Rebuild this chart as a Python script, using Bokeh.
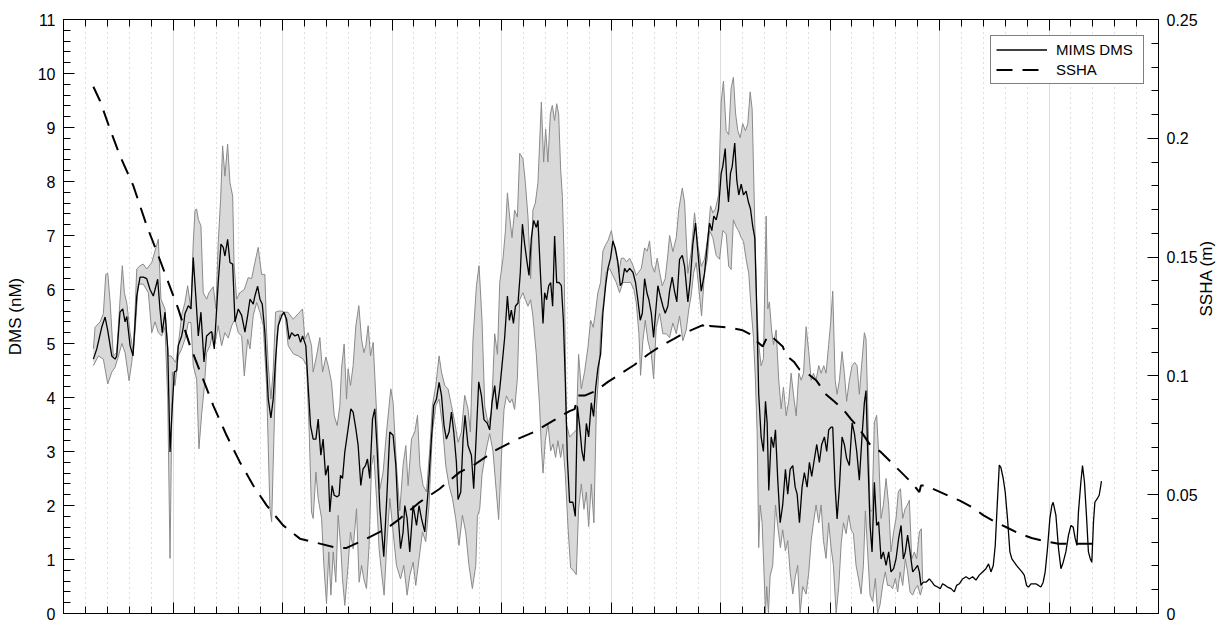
import math
from bokeh.plotting import figure
from bokeh.models import (Range1d, LinearAxis, FixedTicker, Legend, LegendItem)
from bokeh.embed import file_html
from bokeh.resources import INLINE

# ---------------- data (x in days, DMS in nM, SSHA in m) ----------------
mean_day = [0.273,0.304,0.349,0.380,0.404,0.441,0.471,0.486,0.516,0.541,0.562,0.578,0.608,0.635,0.669,0.699,0.729,0.760,0.790,0.820,
            0.836,0.860,0.881,0.902,0.927,0.952,0.973,0.994,1.012,1.034,1.048,1.079,1.094,1.109,1.140,1.164,1.185,1.210,1.231,1.255,
            1.283,1.307,1.338,1.353,1.377,1.413,1.438,1.459,1.474,1.499,1.520,1.545,1.566,1.596,1.627,1.657,1.682,1.703,1.733,1.748,
            1.773,1.794,1.815,1.839,1.870,1.894,1.915,1.937,1.961,1.992,2.013,2.037,2.061,2.083,2.113,2.143,2.165,2.183,2.213,2.234,
            2.256,2.280,2.305,2.326,2.350,2.371,2.393,2.417,2.432,2.453,2.472,2.499,2.517,2.530,2.548,2.569,2.599,2.624,2.645,2.670,
            2.691,2.715,2.736,2.758,2.776,2.797,2.822,2.843,2.864,2.889,2.925,2.955,2.980,3.010,3.035,3.056,3.078,3.101,3.117,3.138,
            3.162,3.193,3.224,3.247,3.269,3.299,3.329,3.360,3.381,3.406,3.430,3.452,3.475,3.497,3.521,3.543,3.564,3.588,3.603,3.628,
            3.649,3.667,3.694,3.725,3.746,3.771,3.792,3.817,3.840,3.871,3.892,3.913,3.938,3.959,3.984,4.005,4.029,4.054,4.072,4.090,
            4.109,4.127,4.151,4.172,4.191,4.212,4.233,4.251,4.273,4.294,4.318,4.333,4.355,4.379,4.394,4.412,4.431,4.449,4.467,4.485,
            4.504,4.525,4.547,4.565,4.583,4.601,4.622,4.652,4.674,4.693,4.714,4.734,4.753,4.775,4.796,4.820,4.841,4.859,4.880,4.905,
            4.926,4.951,4.972,4.996,5.017,5.039,5.063,5.085,5.103,5.124,5.145,5.170,5.200,5.224,5.245,5.267,5.286,5.307,5.328,5.346,
            5.368,5.389,5.407,5.428,5.450,5.474,5.495,5.519,5.535,5.559,5.580,5.601,5.626,5.651,5.672,5.702,5.724,5.747,5.772,5.793,
            5.824,5.854,5.879,5.900,5.921,5.939,5.961,5.982,6.006,6.021,6.043,6.057,6.073,6.091,6.107,6.130,6.149,6.167,6.189,6.210,
            6.234,6.255,6.274,6.295,6.313,6.331,6.349,6.371,6.392,6.411,6.426,6.441,6.463,6.484,6.502,6.523,6.545,6.568,6.593,6.614,
            6.636,6.660,6.682,6.700,6.721,6.745,6.766,6.791,6.812,6.833,6.858,6.879,6.903,6.924,6.949,6.970,6.988,7.010,7.025,7.047,
            7.065,7.086,7.110,7.131,7.152,7.177,7.202,7.223,7.244,7.268,7.293,7.314,7.329,7.344,7.366,7.384,7.405,7.426,7.444,7.466,
            7.487,7.512,7.536,7.557,7.581,7.603,7.627,7.649,7.670,7.688,7.709,7.731,7.755,7.779,7.800,7.816,7.831,7.852,7.877,7.907,
            7.932,7.953,7.983,8.007,8.028,8.053,8.074,8.105,8.135,8.156,8.181,8.211,8.242,8.272,8.302,8.333,8.363,8.393,8.424,8.448,
            8.470,8.491,8.509,8.527,8.546,8.561,8.582,8.600,8.621,8.643,8.661,8.682,8.703,8.728,8.753,8.774,8.795,8.813,8.835,8.859,
            8.880,8.904,8.926,8.947,8.965,8.986,9.008,9.026,9.038,9.063,9.087,9.109,9.130,9.154,9.178,9.200,9.221,9.239,9.255,9.269,
            9.291,9.306,9.324,9.342,9.360,9.376,9.391,9.406,9.419,9.442,9.458,9.473,9.479]
mean_nM = [4.71,4.90,5.30,5.49,5.24,4.77,4.71,4.77,5.58,5.64,5.40,5.50,4.96,4.77,5.88,6.23,6.23,6.20,6.00,5.88,
           6.00,6.19,5.64,5.20,5.58,4.90,2.99,3.85,4.47,4.50,4.96,5.14,5.30,5.55,5.70,5.64,6.59,5.82,5.14,5.58,
           4.66,5.14,5.20,5.22,4.90,6.13,6.84,6.78,6.62,6.93,6.50,6.47,5.40,5.64,5.52,5.21,5.52,5.82,5.73,5.88,
           6.06,5.82,5.73,5.21,3.97,3.62,3.97,4.71,5.33,5.51,5.58,5.45,5.08,5.20,5.14,5.17,5.02,5.14,4.96,4.22,
           3.48,3.23,3.23,3.60,2.93,3.23,2.56,2.74,1.88,2.37,2.19,2.16,2.19,2.56,2.50,2.99,3.42,3.79,3.73,3.42,
           3.11,2.37,2.68,2.74,2.86,2.50,3.60,3.79,3.05,1.94,1.05,2.25,3.36,3.30,2.74,1.82,1.20,1.50,2.00,1.76,
           1.14,2.00,1.63,2.00,1.76,1.51,2.25,3.23,3.85,3.97,4.28,4.04,3.48,3.23,3.36,3.73,3.36,2.80,2.11,2.25,
           3.23,3.67,3.11,2.93,2.31,3.36,4.29,4.03,3.59,3.52,3.40,3.90,4.22,3.78,4.16,4.60,5.11,5.88,5.43,5.62,
           5.37,5.69,5.75,6.32,7.21,6.83,6.51,6.26,6.96,7.28,7.15,7.28,6.32,5.37,5.94,5.81,6.07,6.13,5.69,6.99,
           6.13,6.13,6.07,5.43,4.29,2.89,2.06,2.06,1.80,3.84,3.46,3.01,2.82,3.52,3.27,3.90,3.65,4.16,4.54,4.80,
           5.56,6.07,6.39,6.58,6.90,6.77,6.51,6.07,6.13,6.39,6.32,6.39,6.32,6.13,5.81,5.43,5.56,6.20,5.94,5.81,
           5.56,5.11,5.56,6.07,5.88,5.69,5.56,5.69,5.97,6.23,5.97,5.77,6.56,6.63,6.43,5.77,6.17,6.83,7.23,6.70,
           5.97,6.30,6.83,7.23,7.09,7.36,7.29,7.49,8.15,8.28,8.61,8.02,7.62,8.15,8.28,8.71,8.02,7.75,7.95,7.75,
           7.82,7.62,7.49,7.16,6.96,5.64,4.06,3.27,3.00,3.93,3.53,2.28,3.27,3.07,3.40,2.47,1.68,2.01,2.67,2.21,
           2.67,2.74,2.34,2.21,1.68,2.34,2.61,2.34,2.80,2.54,2.87,3.13,2.80,3.13,3.27,3.00,3.40,3.45,3.45,2.34,
           1.75,2.34,3.27,3.13,2.87,2.74,3.53,3.33,3.00,2.47,3.30,3.91,4.13,2.99,1.63,1.14,2.43,1.63,1.70,1.01,
           1.14,0.89,1.14,0.77,0.83,1.01,1.39,1.63,1.01,1.14,1.45,1.14,0.77,0.83,0.89,0.77,0.52,0.58,0.58,0.64,
           0.58,0.52,0.49,0.46,0.55,0.52,0.49,0.46,0.40,0.52,0.55,0.64,0.68,0.64,0.68,0.62,0.71,0.77,0.83,0.92,
           0.77,0.89,1.26,2.00,2.75,2.70,2.50,2.25,1.76,1.14,1.01,0.95,0.89,0.83,0.77,0.71,0.52,0.49,0.55,0.55,
           0.55,0.52,0.49,0.58,0.77,1.20,1.76,2.00,2.06,1.82,1.20,0.83,0.95,1.14,1.45,1.63,1.60,1.39,1.26,1.88,
           2.43,2.74,2.43,1.82,1.14,1.02,0.95,1.69,2.06,2.13,2.19,2.37,2.45]

hi_day = [0.273,0.288,0.334,0.364,0.386,0.404,0.425,0.455,0.486,0.516,0.537,0.556,0.578,0.608,0.638,0.669,0.699,0.729,0.760,0.806,
          0.866,0.890,0.927,0.957,0.982,1.003,1.025,1.048,1.079,1.109,1.134,1.164,1.185,1.201,1.216,1.231,1.255,1.276,1.307,1.328,
          1.368,1.392,1.413,1.435,1.453,1.474,1.499,1.520,1.545,1.557,1.581,1.611,1.651,1.687,1.718,1.748,1.778,1.809,1.839,1.855,
          1.870,1.894,1.915,1.937,1.961,1.992,2.013,2.049,2.098,2.143,2.183,2.204,2.234,2.265,2.280,2.311,2.341,2.366,2.396,2.417,
          2.448,2.472,2.499,2.524,2.539,2.563,2.585,2.599,2.621,2.645,2.670,2.697,2.722,2.743,2.761,2.782,2.804,2.828,2.859,2.889,
          2.919,2.950,2.989,3.010,3.041,3.071,3.101,3.126,3.147,3.178,3.208,3.233,3.254,3.284,3.315,3.345,3.369,3.400,3.430,3.452,
          3.482,3.512,3.543,3.573,3.603,3.634,3.664,3.694,3.716,3.740,3.771,3.795,3.822,3.847,3.877,3.908,3.938,3.963,3.984,4.014,
          4.036,4.054,4.075,4.096,4.120,4.145,4.166,4.196,4.218,4.242,4.266,4.287,4.309,4.333,4.364,4.385,4.403,4.424,4.446,4.464,
          4.485,4.504,4.522,4.540,4.556,4.570,4.592,4.622,4.652,4.683,4.704,4.729,4.759,4.789,4.814,4.838,4.857,4.880,4.905,4.926,
          4.951,4.972,5.003,5.026,5.048,5.072,5.094,5.118,5.142,5.170,5.200,5.231,5.252,5.277,5.307,5.331,5.352,5.373,5.398,5.422,
          5.444,5.468,5.495,5.519,5.535,5.565,5.596,5.620,5.651,5.672,5.702,5.733,5.763,5.793,5.824,5.854,5.884,5.909,5.930,5.954,
          5.982,6.006,6.027,6.052,6.075,6.097,6.118,6.137,6.158,6.180,6.203,6.228,6.249,6.271,6.289,6.310,6.331,6.349,6.371,6.392,
          6.417,6.432,6.447,6.466,6.484,6.508,6.532,6.554,6.575,6.600,6.623,6.645,6.666,6.691,6.715,6.737,6.758,6.782,6.806,6.828,
          6.849,6.873,6.897,6.919,6.943,6.964,6.988,7.006,7.025,7.047,7.065,7.086,7.110,7.131,7.152,7.177,7.202,7.225,7.247,7.268,
          7.293,7.314,7.329,7.344,7.366,7.384,7.405,7.426,7.444,7.466,7.487,7.512,7.536,7.557,7.581,7.603,7.624,7.643,7.664,7.686,
          7.704,7.725,7.746,7.770,7.791,7.816,7.834,7.846]
hi_nM = [4.90,5.30,5.40,5.55,6.28,6.30,5.80,4.77,4.83,5.80,6.44,5.94,5.75,5.20,4.83,6.38,6.44,6.47,6.38,6.50,
         6.93,5.82,5.64,4.77,4.77,4.71,4.65,4.96,5.52,5.76,6.07,5.64,6.87,7.47,7.49,7.30,7.18,5.94,5.82,5.94,
         6.05,5.64,6.87,7.67,8.66,8.10,8.69,7.98,7.73,6.50,5.82,5.94,6.00,6.22,6.20,6.50,6.78,6.28,6.28,5.21,
         4.60,3.97,4.50,5.58,5.60,5.60,5.58,5.58,5.45,5.55,5.64,5.08,5.20,4.96,4.47,4.77,5.11,4.47,4.75,4.59,
         4.28,3.67,3.48,3.85,4.53,4.99,3.97,4.53,4.22,4.59,5.33,5.70,5.08,4.83,4.96,5.33,4.77,5.02,3.73,2.30,
         2.62,3.36,4.16,3.91,2.74,1.90,2.74,3.11,2.37,3.23,3.36,3.67,2.74,2.37,2.25,3.05,3.85,4.22,4.77,4.47,
         4.22,4.16,3.85,3.54,3.17,3.36,4.04,3.79,3.36,5.08,6.07,6.44,5.43,3.84,3.52,3.71,5.18,4.80,6.13,6.58,
         7.09,7.79,7.34,6.96,7.47,7.34,8.52,8.42,7.98,7.34,6.20,7.47,7.60,7.98,9.47,8.36,8.97,8.36,9.25,9.41,
         9.13,9.44,9.25,8.23,7.72,6.71,3.52,3.27,3.33,3.40,4.80,4.16,4.48,4.92,5.43,5.30,5.56,5.94,6.13,6.71,
         6.83,6.90,7.09,6.83,6.64,6.32,6.58,6.58,6.51,6.58,6.45,6.26,6.32,6.39,6.77,6.71,6.90,6.45,6.32,6.58,
         6.32,6.07,6.20,6.64,7.00,6.70,6.96,7.49,7.88,7.62,6.30,6.70,7.42,6.83,6.43,6.56,6.96,7.55,7.42,7.49,
         7.75,9.47,9.86,8.94,8.87,9.73,9.93,9.27,8.94,8.81,9.07,8.94,9.07,9.66,9.34,7.49,5.70,4.98,4.59,4.72,
         7.36,5.64,5.77,5.25,4.98,5.25,4.32,3.79,4.19,3.66,3.93,4.45,4.06,3.66,4.45,4.32,4.45,5.31,4.85,4.32,
         4.45,4.32,4.59,4.45,4.59,4.45,4.98,5.38,5.97,4.32,4.06,4.32,4.85,4.45,3.93,4.32,4.59,4.65,4.59,4.06,
         4.70,5.20,5.08,3.91,1.90,1.90,3.54,3.67,2.99,1.76,2.00,2.50,2.00,1.14,1.51,1.76,2.25,2.31,1.76,1.94,
         2.00,2.10,1.01,1.14,1.01,1.51,1.57,0.60]

lo_day = [0.273,0.319,0.364,0.404,0.441,0.471,0.502,0.533,0.562,0.599,0.623,0.653,0.683,0.729,0.775,0.806,0.836,0.866,0.897,0.927,
          0.952,0.973,0.994,1.018,1.048,1.079,1.109,1.140,1.164,1.185,1.216,1.237,1.262,1.286,1.307,1.338,1.362,1.383,1.413,1.444,
          1.474,1.505,1.536,1.566,1.596,1.627,1.651,1.682,1.703,1.733,1.764,1.794,1.824,1.855,1.885,1.901,1.924,1.946,1.976,2.022,
          2.052,2.098,2.143,2.189,2.220,2.244,2.265,2.280,2.305,2.326,2.357,2.378,2.402,2.423,2.442,2.463,2.487,2.508,2.533,2.548,
          2.569,2.599,2.621,2.645,2.676,2.700,2.722,2.743,2.767,2.791,2.813,2.834,2.859,2.882,2.904,2.928,2.950,2.980,3.010,3.041,
          3.078,3.108,3.138,3.162,3.193,3.217,3.247,3.278,3.308,3.338,3.369,3.400,3.430,3.461,3.491,3.521,3.552,3.582,3.612,3.643,
          3.673,3.703,3.734,3.765,3.780,3.801,3.822,3.847,3.871,3.892,3.922,3.953,3.974,3.999,4.023,4.045,4.075,4.096,4.120,4.145,
          4.166,4.196,4.218,4.242,4.266,4.287,4.318,4.348,4.364,4.379,4.400,4.424,4.449,4.470,4.494,4.515,4.540,4.561,4.583,4.607,
          4.631,4.661,4.683,4.704,4.729,4.753,4.775,4.796,4.820,4.844,4.866,4.887,4.911,4.935,4.957,4.987,5.017,5.048,5.078,5.109,
          5.139,5.179,5.209,5.231,5.255,5.270,5.291,5.313,5.337,5.368,5.389,5.413,5.444,5.474,5.505,5.535,5.565,5.596,5.626,5.656,
          5.687,5.711,5.733,5.754,5.778,5.808,5.827,5.854,5.879,5.900,5.930,5.961,5.991,6.021,6.052,6.075,6.097,6.118,6.143,6.164,
          6.189,6.210,6.234,6.258,6.280,6.301,6.319,6.335,6.349,6.362,6.380,6.395,6.411,6.422,6.438,6.453,6.477,6.502,6.523,6.547,
          6.568,6.593,6.614,6.636,6.660,6.684,6.705,6.727,6.751,6.782,6.806,6.828,6.849,6.873,6.897,6.919,6.940,6.964,6.988,7.010,
          7.031,7.056,7.080,7.102,7.123,7.147,7.171,7.193,7.214,7.238,7.262,7.284,7.305,7.323,7.344,7.366,7.390,7.414,7.435,7.457,
          7.481,7.505,7.526,7.548,7.572,7.597,7.618,7.640,7.664,7.688,7.709,7.731,7.755,7.779,7.800,7.825,7.846]
lo_nM = [4.59,4.77,4.71,4.25,4.47,4.56,4.77,5.00,4.83,4.31,4.65,5.20,6.10,6.10,5.94,5.20,5.40,5.20,5.14,5.30,
         3.97,1.02,4.47,4.22,4.77,4.90,5.08,5.39,5.39,4.59,4.34,3.05,3.70,4.20,4.83,4.96,5.20,5.00,5.33,4.96,
         5.20,5.10,5.33,5.45,5.20,5.14,4.40,5.08,4.90,5.52,5.76,5.58,5.33,4.22,1.94,1.70,3.44,5.10,5.52,5.55,
         4.96,4.81,4.77,4.71,4.59,3.36,1.88,1.76,2.62,2.13,1.76,0.89,0.18,1.14,0.34,1.14,0.58,1.82,1.20,0.64,
         0.15,0.89,1.51,1.20,1.94,0.58,0.89,0.64,0.46,1.26,2.74,2.93,2.13,1.20,0.77,0.34,1.20,2.13,1.51,0.89,
         0.64,0.89,0.34,0.70,0.95,0.52,1.01,1.51,1.33,2.00,3.36,3.85,3.97,3.48,2.74,2.37,2.13,1.76,1.26,1.82,
         1.51,0.89,0.46,0.89,1.80,1.93,2.57,2.89,3.14,3.33,3.01,2.25,1.74,2.89,3.78,4.03,3.90,3.97,3.78,4.35,
         5.81,5.94,5.81,5.69,5.81,5.50,4.80,3.84,3.08,2.60,3.20,3.52,3.01,3.14,2.89,3.20,2.89,3.14,2.57,1.61,
         0.85,0.78,0.72,1.93,2.40,1.93,2.25,1.61,2.40,1.68,3.78,4.41,5.43,5.81,6.32,6.39,6.26,6.13,5.94,6.13,
         6.13,6.13,6.00,5.75,5.18,4.41,5.05,5.43,5.05,4.80,4.35,5.30,5.56,5.18,5.18,5.11,5.38,5.18,5.51,5.05,
         5.25,5.64,5.90,6.30,6.50,5.90,5.51,6.30,6.56,7.09,6.96,6.63,6.56,7.09,7.03,6.43,6.37,7.29,7.16,7.09,
         6.96,6.89,6.56,6.30,5.64,5.11,4.32,3.33,1.22,2.01,1.68,0.89,0.00,0.50,0.00,0.69,0.89,2.01,1.62,1.22,
         1.55,1.16,1.35,0.76,0.36,0.69,0.89,0.00,0.50,0.36,0.76,1.35,1.68,2.01,1.68,2.01,1.35,1.02,1.68,1.22,
         0.89,0.00,0.50,1.29,1.68,1.48,1.82,1.55,1.48,0.89,0.63,0.36,0.89,1.90,1.14,0.34,0.22,0.65,0.00,0.16,
         0.52,0.77,0.52,0.52,0.46,0.65,0.40,0.77,0.52,1.01,0.77,0.40,0.34,0.46,0.52,0.34,0.50]

ssha_day = [0.273,0.334,0.425,0.516,0.638,0.760,0.866,0.957,1.048,1.155,1.262,1.368,1.490,1.611,1.733,1.855,2.006,2.159,2.341,2.494,
            2.585,2.767,2.950,3.071,3.254,3.436,3.618,3.755,3.938,4.120,4.303,4.485,4.622,4.668,4.698,4.759,4.866,4.972,5.094,5.215,
            5.337,5.459,5.574,5.656,5.838,5.870,5.900,5.991,6.082,6.203,6.265,6.326,6.386,6.432,6.477,6.568,6.600,6.675,6.721,6.812,
            6.873,6.964,7.040,7.116,7.193,7.238,7.299,7.360,7.466,7.557,7.649,7.755,7.816,7.831,7.865,7.972,8.074,8.181,8.296,8.402,
            8.509,8.607,8.728,8.841,8.963,9.087,9.479]
ssha_m = [0.2217,0.2157,0.2038,0.1926,0.1800,0.1632,0.1506,0.1394,0.1282,0.1127,0.1001,0.0875,0.0749,0.0637,0.0539,0.0455,0.0371,0.0315,0.0294,0.0276,
          0.0276,0.0315,0.0357,0.0399,0.0469,0.0525,0.0595,0.0627,0.0685,0.0729,0.0765,0.0815,0.0852,0.0860,0.0917,0.0917,0.0938,0.0975,0.1011,0.1047,
          0.1090,0.1127,0.1156,0.1177,0.1214,0.1192,0.1210,0.1207,0.1204,0.1192,0.1177,0.1147,0.1124,0.1170,0.1162,0.1124,0.1087,0.1057,0.1027,0.1004,
          0.0982,0.0922,0.0892,0.0862,0.0817,0.0794,0.0756,0.0714,0.0679,0.0637,0.0595,0.0546,0.0511,0.0539,0.0539,0.0518,0.0497,0.0476,0.0448,0.0413,
          0.0385,0.0364,0.0336,0.0318,0.0304,0.0294,0.0294]

dms_ticks = list(range(0, 12))
ssha_ticks = [0.0, 0.05, 0.1, 0.15, 0.2, 0.25]
ssha_tick_labels = ["0", "0.05", "0.1", "0.15", "0.2", "0.25"]
day_ticks = list(range(0, 11))

FONT = "Liberation Sans"

p = figure(width=1230, height=622, output_backend="svg", toolbar_location=None,
           x_range=Range1d(0, 10), y_range=Range1d(0, 11),
           min_border_left=63, min_border_right=72, min_border_top=19, min_border_bottom=9)
p.extra_y_ranges = {"ssha": Range1d(0, 0.25)}
p.background_fill_color = "white"
p.border_fill_color = "white"
p.outline_line_color = "black"
p.outline_line_width = 1

x_ticker = FixedTicker(ticks=day_ticks, minor_ticks=[k * 0.2 for k in range(51) if k % 5])

def style_axis(ax):
    ax.axis_line_color = "black"
    ax.axis_line_width = 1
    ax.major_tick_in = 11
    ax.major_tick_out = 0
    ax.minor_tick_in = 7
    ax.minor_tick_out = 0
    ax.major_tick_line_color = "black"
    ax.minor_tick_line_color = "black"
    ax.major_label_text_font = FONT
    ax.major_label_text_font_size = "16px"
    ax.major_label_text_color = "black"
    ax.axis_label_text_font = FONT
    ax.axis_label_text_font_size = "17px"
    ax.axis_label_text_font_style = "normal"
    ax.axis_label_text_color = "black"

# bottom axis (no labels)
xa = p.xaxis[0]
xa.ticker = x_ticker
style_axis(xa)
xa.major_label_overrides = {t: "" for t in day_ticks}
xa.major_label_text_font_size = "0px"
xa.major_label_standoff = 0

# top axis (no labels)
top = LinearAxis(ticker=x_ticker)
style_axis(top)
top.major_label_overrides = {t: "" for t in day_ticks}
top.major_label_text_font_size = "0px"
top.major_label_standoff = 0
p.add_layout(top, "above")

# left axis
ya = p.yaxis[0]
ya.ticker = FixedTicker(ticks=dms_ticks, minor_ticks=[k * 0.2 for k in range(56) if k % 5])
style_axis(ya)
ya.axis_label = "DMS (nM)"
ya.major_label_standoff = 8
ya.axis_label_standoff = 10

# right axis
ra = LinearAxis(y_range_name="ssha",
                ticker=FixedTicker(ticks=ssha_ticks, minor_ticks=[k * 0.01 for k in range(26) if k % 5]))
style_axis(ra)
ra.major_label_overrides = dict(zip(ssha_ticks, ssha_tick_labels))
ra.major_label_standoff = 8
p.add_layout(ra, "right")

# label-only axis carrying the right-hand title (reads bottom-to-top)
ra2 = LinearAxis(y_range_name="ssha", ticker=FixedTicker(ticks=[]))
ra2.axis_line_color = None
ra2.major_tick_line_color = None
ra2.minor_tick_line_color = None
ra2.major_label_text_font_size = "0px"
ra2.major_label_standoff = 0
ra2.axis_label = "SSHA (m)"
ra2.axis_label_orientation = math.pi / 2
ra2.axis_label_standoff = 6
ra2.axis_label_text_font = FONT
ra2.axis_label_text_font_size = "17px"
ra2.axis_label_text_font_style = "normal"
ra2.axis_label_text_color = "black"
p.add_layout(ra2, "right")

# grids
p.ygrid.visible = False
g = p.xgrid[0]
g.ticker = x_ticker
g.grid_line_color = "#dedede"
g.grid_line_width = 1
g.minor_grid_line_color = "#bdbdbd"
g.minor_grid_line_dash = "1 4"
g.minor_grid_line_width = 1

# band
band_x = hi_day + lo_day[::-1]
band_y = hi_nM + lo_nM[::-1]
p.patch(band_x, band_y, fill_color="#d9d9d9", line_color=None)
p.line(hi_day, hi_nM, line_color="#8a8a8a", line_width=1)
p.line(lo_day, lo_nM, line_color="#8a8a8a", line_width=1)

mean_r = p.line(mean_day, mean_nM, line_color="black", line_width=1.3)
ssha_r = p.line(ssha_day, ssha_m, y_range_name="ssha", line_color="black",
                line_width=2, line_dash="16 10")

legend = Legend(items=[LegendItem(label="MIMS DMS", renderers=[mean_r]),
                       LegendItem(label="SSHA", renderers=[ssha_r])],
                location=(927, 529))
legend.margin = 0
legend.padding = 5
legend.spacing = 3
legend.glyph_width = 51
legend.glyph_height = 17
legend.label_height = 17
legend.label_width = 82
legend.label_standoff = 9
legend.label_text_font = FONT
legend.label_text_font_size = "15px"
legend.label_text_color = "black"
legend.border_line_color = "black"
legend.border_line_width = 1
legend.background_fill_color = "white"
legend.background_fill_alpha = 1
p.add_layout(legend, "center")

open("out.html", "w").write(file_html(p, INLINE))
